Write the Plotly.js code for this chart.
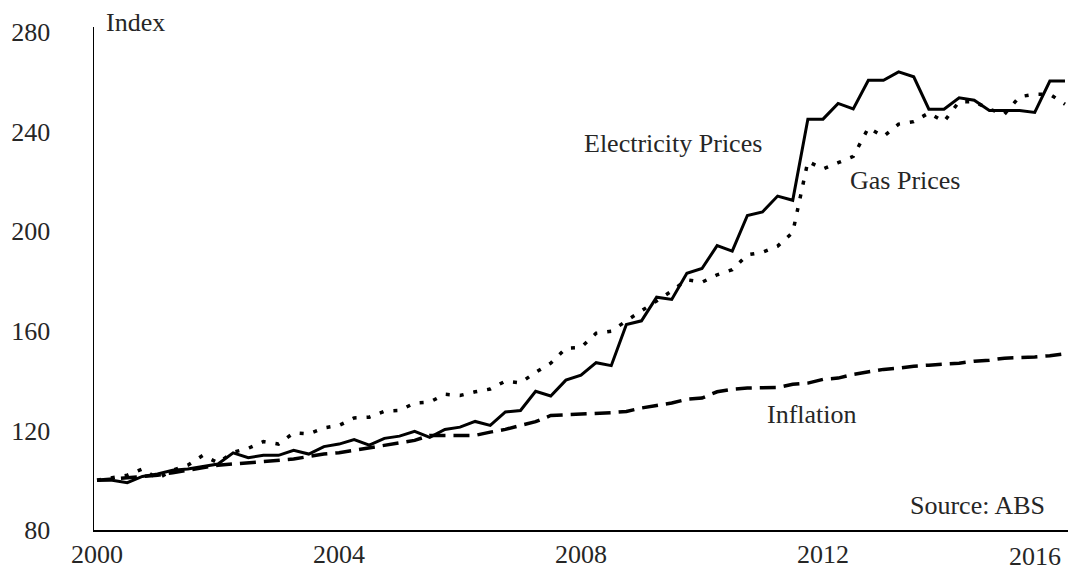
<!DOCTYPE html>
<html>
<head>
<meta charset="utf-8">
<script src="https://cdn.plot.ly/plotly-3.0.1.min.js"></script>
<style>
  html, body { margin: 0; padding: 0; background: #fff; }
  #chart { width: 1080px; height: 572px; }
</style>
</head>
<body>
<div id="chart"></div>
<script>
// quarterly index, 2000 Q1 = 100 (ABS), 2000 Q1 .. 2016 Q1
let quarters = [];
for (let i = 0; i < 65; i++) quarters.push(2000 + i / 4);

let electricity = [100,100,99,101.5,102.5,104,104.5,105.5,106.5,111,109,110,110,112,110.5,113.5,
  114.5,116.3,114.1,116.8,117.7,119.6,117.2,120.4,121.3,123.6,122,127.4,128,135.7,133.8,140.2,
  142.2,147.2,146,162.5,164,173.5,172.6,183.1,185,194.2,192,206.3,207.7,214.1,212.4,245,
  245,251.3,249.1,260.6,260.6,264,262,249,249,253.6,252.6,248.5,248.5,248.5,247.7,260.3,260.3];

let gas = [100,101,102,104.5,100.6,104,106,110,107,111.2,112.8,115.5,114.5,119,118.6,121,
  122,125,125.3,127.7,128,131,131.4,134.5,134,135.5,136.6,139.8,139.1,143.3,147,153,
  153.3,159,159.8,164,168,172,176,180.5,179.5,182.5,184.5,190.5,191.5,194,199.5,228,
  225,227.5,230,241.5,238,243,244,247.5,244,252,252,249,247,254,255,255,251];

let inflation = [100,100.5,101,101.5,102,103,104,105,106,106.5,107,107.5,108,108.5,109.5,110.5,
  111,112,112.8,114,115,116,118,118,117.8,118,119.3,120.4,122,123.5,126,126.3,
  126.3,126.8,127.1,127.6,129,130,131,132.5,133,135.5,136.5,137,137,137.2,138.5,139,
  140.5,141,142.5,143.5,144.5,145,145.8,146.2,146.5,147,147.8,148.2,149,149.2,149.5,150,150.8];

let yearTicks = [2000, 2004, 2008, 2012];
let yearLabels = ['2000', '2004', '2008', '2012'];

let txt = '#262626';
let fnt = 'Liberation Serif, Times New Roman, serif';

let trace1 = {
  x: quarters, y: electricity, name: 'Electricity Prices',
  type: 'scatter', mode: 'lines',
  line: { color: '#000', width: 3 }
};
let trace2 = {
  x: quarters, y: gas, name: 'Gas Prices',
  type: 'scatter', mode: 'lines',
  line: { color: '#000', width: 3.5, dash: '4px,10px' }
};
let trace3 = {
  x: quarters, y: inflation, name: 'Inflation',
  type: 'scatter', mode: 'lines',
  line: { color: '#000', width: 3.5, dash: '16px,8px' }
};

let data = [trace1, trace2, trace3];

let layout = {
  width: 1080,
  height: 572,
  margin: { l: 94, r: 12, t: 27, b: 42 },
  showlegend: false,
  paper_bgcolor: '#fff',
  plot_bgcolor: '#fff',
  font: { family: fnt, size: 26, color: txt },
  xaxis: {
    range: [1999.95, 2016.05],
    tickvals: yearTicks,
    ticktext: yearLabels,
    showgrid: false,
    zeroline: false,
    showline: true,
    linecolor: '#000',
    linewidth: 1.5,
    ticks: '',
    ticklabelstandoff: 0,
    tickfont: { family: fnt, size: 26, color: txt }
  },
  yaxis: {
    range: [80, 282],
    tick0: 80,
    dtick: 40,
    showgrid: false,
    zeroline: false,
    showline: true,
    linecolor: '#000',
    linewidth: 1.5,
    ticks: '',
    ticklabelstandoff: 37,
    tickfont: { family: fnt, size: 26, color: txt }
  },
  annotations: [
    { text: 'Index', xref: 'paper', yref: 'paper', x: 0.01, y: 1, xanchor: 'left', yanchor: 'middle',
      yshift: 5, showarrow: false, font: { family: fnt, size: 26, color: txt } },
    { text: 'Electricity Prices', xref: 'x', yref: 'y', x: 2009.52, y: 235.4, showarrow: false,
      font: { family: fnt, size: 26, color: txt } },
    { text: 'Gas Prices', xref: 'x', yref: 'y', x: 2013.36, y: 220.2, showarrow: false,
      font: { family: fnt, size: 26, color: txt } },
    { text: 'Inflation', xref: 'x', yref: 'y', x: 2011.82, y: 126.2, showarrow: false,
      font: { family: fnt, size: 26, color: txt } },
    { text: 'Source: ABS', xref: 'x', yref: 'y', x: 2014.56, y: 90, showarrow: false,
      font: { family: fnt, size: 26, color: txt } },
    // last year label sits inside the right edge, like the original
    { text: '2016', xref: 'x', yref: 'paper', x: 2016, y: 0, xanchor: 'right', yanchor: 'top',
      xshift: -2, yshift: -10, showarrow: false, font: { family: fnt, size: 26, color: txt } }
  ]
};

Plotly.newPlot('chart', data, layout, { displayModeBar: false, staticPlot: true });
</script>
</body>
</html>
